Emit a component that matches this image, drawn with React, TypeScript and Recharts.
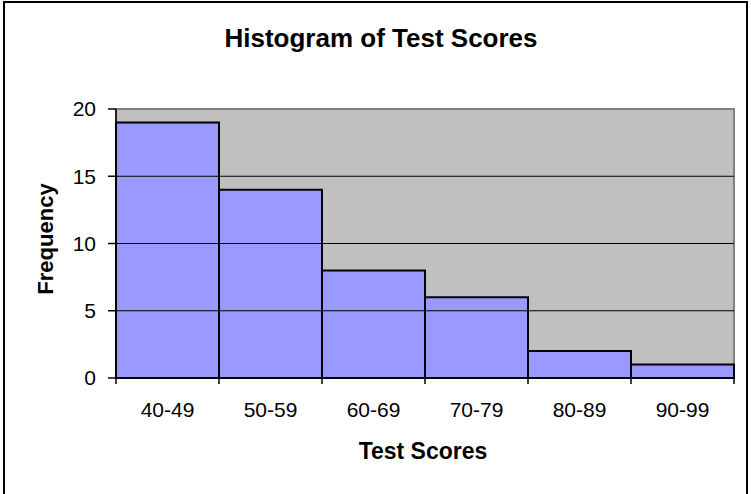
import React from "react";
import {
  Bar,
  BarChart,
  CartesianGrid,
  ReferenceArea,
  ReferenceLine,
  XAxis,
  YAxis,
} from "recharts";

const categories = ["40-49", "50-59", "60-69", "70-79", "80-89", "90-99"];
const frequencies = [19, 14, 8, 6, 2, 1];
const yTicks = [0, 5, 10, 15, 20];
const gridValues = [5, 10, 15];

const data = categories.map((label, i) => ({ label, value: frequencies[i] }));

const font = "'Liberation Sans', Arial, sans-serif";
const TICK_MARGIN = 24;

// label in the middle of the bin, tick marks on the bin edges
const BinTick = (props: any) => {
  const { x, y, payload, index, visibleTicksCount } = props;
  const half = payload?.offset ?? 51.5;
  const axisY = y - TICK_MARGIN;
  const isLast = index === visibleTicksCount - 1;
  return (
    <g>
      <line x1={x - half} x2={x - half} y1={axisY} y2={axisY + 6} stroke="#000" strokeWidth={1.5} />
      {isLast && (
        <line x1={x + half} x2={x + half} y1={axisY} y2={axisY + 6} stroke="#000" strokeWidth={1.5} />
      )}
      <text
        x={x}
        y={y}
        dy="0.71em"
        textAnchor="middle"
        fill="#000"
        fontSize={21}
        fontFamily={font}
      >
        {payload.value}
      </text>
    </g>
  );
};

export default function App() {
  return (
    <div
      style={{
        position: "absolute",
        left: 0,
        top: 0,
        width: 751,
        height: 494,
        background: "#fff",
        overflow: "hidden",
        fontFamily: font,
      }}
    >
      <div
        style={{
          position: "absolute",
          left: 3,
          top: 1,
          width: 741,
          height: 500,
          border: "2px solid #000",
        }}
      />
      <div
        style={{
          position: "absolute",
          left: 0,
          width: 762,
          top: 23,
          lineHeight: "30px",
          textAlign: "center",
          fontSize: 26,
          fontWeight: 700,
        }}
      >
        Histogram of Test Scores
      </div>
      <div
        style={{
          position: "absolute",
          left: 46,
          top: 239,
          transform: "translate(-50%, -50%) rotate(-90deg)",
          fontSize: 22,
          fontWeight: 700,
          whiteSpace: "nowrap",
        }}
      >
        Frequency
      </div>
      <div
        style={{
          position: "absolute",
          left: 0,
          width: 846,
          top: 436,
          lineHeight: "30px",
          textAlign: "center",
          fontSize: 23,
          fontWeight: 700,
        }}
      >
        Test Scores
      </div>
      <div style={{ position: "absolute", left: 0, top: 0 }}>
        <BarChart
          width={751}
          height={494}
          data={data}
          barCategoryGap={0}
          margin={{ top: 109, right: 17, bottom: 86, left: 56 }}
        >
          <CartesianGrid horizontal={false} vertical={false} fill="#C0C0C0" />
          {gridValues.map((v) => (
            <ReferenceLine key={v} y={v} stroke="#000" strokeWidth={1} />
          ))}
          <ReferenceArea y1={0} y2={20} fill="none" stroke="#808080" strokeWidth={2} />
          <XAxis
            dataKey="label"
            height={30}
            axisLine={{ stroke: "#000", strokeWidth: 2 }}
            tickLine={false}
            tickSize={0}
            tickMargin={TICK_MARGIN}
            interval={0}
            tick={<BinTick />}
          />
          <YAxis
            width={60}
            domain={[0, 20]}
            ticks={yTicks}
            interval={0}
            axisLine={{ stroke: "#000", strokeWidth: 1.5 }}
            tickLine={{ stroke: "#000", strokeWidth: 1.5 }}
            tickSize={8}
            tickMargin={12}
            tick={{ fill: "#000", fontSize: 21, fontFamily: font }}
          />
          <Bar
            dataKey="value"
            fill="#9999FF"
            stroke="#000"
            strokeWidth={2}
            isAnimationActive={false}
          />
        </BarChart>
      </div>
    </div>
  );
}
